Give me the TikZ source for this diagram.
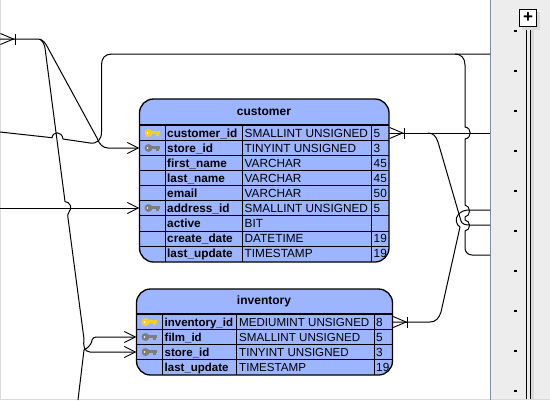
\documentclass[tikz,border=0pt]{standalone}
\usepackage{fontspec}
\setmainfont{Liberation Sans}
\usepackage{xcolor}
\usetikzlibrary{arrows.meta,positioning}
\definecolor{tableblue}{RGB}{157,181,255}
\definecolor{panegray}{RGB}{237,237,237}
\definecolor{paneedge}{RGB}{128,144,160}
\definecolor{shadegray}{RGB}{218,218,218}
\definecolor{keygold}{RGB}{250,205,40}
\definecolor{keygray}{RGB}{125,125,125}

\begin{document}
\begin{tikzpicture}[
  x=1pt, y=-1pt,
  tablebox/.style={draw, line width=1.3pt, fill=tableblue, rounded corners=14pt},
  rowbox/.style={minimum width=#1, minimum height=15pt, inner sep=0pt},
  gridline/.style={line width=1pt},
  cell/.style={anchor=west, inner sep=0pt, text height=8.8pt, text depth=2.4pt, font=\fontsize{11.8}{12}\selectfont},
  boldcell/.style={cell, font=\fontsize{11.8}{12}\selectfont\bfseries},
  title/.style={inner sep=0pt, font=\fontsize{12}{12}\selectfont\bfseries},
  conn/.style={line width=1pt},
  arr/.style={conn, -{Straight Barb[length=11pt, width=11pt, line width=.9pt]}},
  crow/.style={line width=.9pt, {Straight Barb[reversed, length=13pt, width=11pt, sep=0pt]Bar[width=11pt]}-},
  keyicon/.pic={
    \fill[#1] (-3.5,0) circle (4pt);
    \fill[white] (-4.5,0) circle (.9pt);
    \fill[#1] (-1,-1.6) rectangle (8,1.4);
    \fill[#1] (4,0) rectangle (7,2.6);
  }
]
  \useasboundingbox (0,0) rectangle (550,400);
  \fill[white] (0,0) rectangle (550,400);
  \fill[shadegray] (0,0) rectangle (1,400);
  \fill[shadegray] (0,399) rectangle (550,400);

  % customer table
  \draw[tablebox] (139.5,99) rectangle (389,262);
  \node[title] (customer) at (264,112) {customer};
  \draw[line width=2pt] (139.5,124.5) -- (389,124.5);
  \foreach \ypos in {140.5,155.5,170.5,185.5,200.5,215.5,231,246}
    \draw[gridline] (139.5,\ypos) -- (389,\ypos);
  \foreach \xpos in {165,242.5,371.5}
    \draw[gridline] (\xpos,124.5) -- (\xpos,262);
  \foreach \ypos/\rowid/\colname/\coltype/\colsize in {
    133/custid/customer\_id/SMALLINT UNSIGNED/5,
    148/custstore/store\_id/TINYINT UNSIGNED/3,
    163/custfirst/first\_name/VARCHAR/45,
    178/custlast/last\_name/VARCHAR/45,
    193/custemail/email/VARCHAR/50,
    208/custaddr/address\_id/SMALLINT UNSIGNED/5,
    223/custactive/active/BIT/,
    238/custcreate/create\_date/DATETIME/19,
    253.5/custupdate/last\_update/TIMESTAMP/19
  } {
    \node[rowbox=249.5pt] (\rowid) at (264.25,\ypos) {};
    \node[boldcell] (\rowid name) at (167,\ypos+.8) {\colname};
    \node[cell] (\rowid type) at (244.5,\ypos+.8) {\coltype};
    \node[cell] (\rowid size) at (373.5,\ypos+.8) {\colsize};
  }
  \pic at (152,133) {keyicon=keygold};
  \pic at (152,148) {keyicon=keygray};
  \pic at (152,208) {keyicon=keygray};

  % inventory table
  \draw[tablebox] (136.5,289) rectangle (392.5,375);
  \node[title] (inventory) at (264,301) {inventory};
  \draw[line width=2pt] (136.5,314) -- (392.5,314);
  \foreach \ypos in {329.5,344.5,359.5}
    \draw[gridline] (136.5,\ypos) -- (392.5,\ypos);
  \foreach \xpos in {162.5,236.5,374.5}
    \draw[gridline] (\xpos,314) -- (\xpos,375);
  \foreach \ypos/\rowid/\colname/\coltype/\colsize in {
    322/invid/inventory\_id/MEDIUMINT UNSIGNED/8,
    337/invfilm/film\_id/SMALLINT UNSIGNED/5,
    352/invstore/store\_id/TINYINT UNSIGNED/3,
    367/invupdate/last\_update/TIMESTAMP/19
  } {
    \node[rowbox=256pt] (\rowid) at (264.5,\ypos) {};
    \node[boldcell, font=\fontsize{11.5}{12}\selectfont\bfseries] (\rowid name) at (164.5,\ypos+.8) {\colname};
    \node[cell, font=\fontsize{11.6}{12}\selectfont] (\rowid type) at (239,\ypos+.8) {\coltype};
    \node[cell] (\rowid size) at (376,\ypos+.8) {\colsize};
  }
  \pic at (149,322) {keyicon=keygold};
  \pic at (149,337) {keyicon=keygray};
  \pic at (149,352) {keyicon=keygray};

  % side pane
  \fill[panegray] (490,0) rectangle (550,399);
  \draw[paneedge, line width=1.2pt] (490.6,0) -- (490.6,400);
  \fill[shadegray] (530.5,27) rectangle (534,399);
  \draw[line width=1pt] (526.5,26) -- (526.5,399);
  \draw[line width=1pt] (530,26) -- (530,399);
  \foreach \ypos in {31,71,...,391}
    \fill (513.5,\ypos-1) rectangle (516.5,\ypos+1);
  \fill[shadegray] (522,12) rectangle (540,30);
  \node[draw, fill=white, line width=1pt, minimum size=17pt, inner sep=0pt, font=\fontsize{17}{17}\selectfont\bfseries] (zoomplus) at (528,18) {+};

  \coordinate (leftend) at (0,39);
  \coordinate (leftmid) at (0,132);
  \coordinate (leftlow) at (0,208);
  \coordinate (bottomend) at (78,400);
  \coordinate (paneA) at (490,54);
  \coordinate (paneB) at (490,133);
  \coordinate (paneC) at (490,210);
  \coordinate (paneD) at (490,225);
  \coordinate (paneE) at (490,255);

  % connectors
  \draw[arr] (leftend) -- (38,39) .. controls (43,39) and (46,44) .. (48,48) -- (97,138)
    .. controls (99,144) and (103,148) .. (108,148) -- (custstore.west);
  \draw[crow] (leftend) -- +(14,0);
  \draw[conn] (40,39) .. controls (43,41) and (44,44) .. (45,48) -- (65,201.5)
    .. controls (70,202) and (73,208) .. (69,212) .. controls (67,214) and (68,216) .. (68,218) -- (84,339);
  \draw[arr] (84,339) .. controls (83,345) and (84,352) .. (90,352) -- (invstore.west);
  \draw[arr] (bottomend) -- (84,350) .. controls (90,347) and (92,342) .. (92,340)
    .. controls (93,338) and (94,337) .. (96,337) -- (invfilm.west);
  \draw[conn] (leftmid) -- (52,137.7) .. controls (53,131) and (62,131) .. (63,139)
    -- (90,143) .. controls (97,144) and (101.5,140) .. (101.5,132) -- (101.5,65)
    .. controls (101.5,58) and (105,54) .. (112,54) -- (paneA);
  \draw[arr] (leftlow) -- (custaddr.west);

  \draw[conn] (455,54) .. controls (461,54) and (465,58) .. (465,65) -- (465,127)
    .. controls (472,128) and (472,138) .. (465,139) -- (465,205)
    .. controls (471,206) and (471,216) .. (465,217) -- (465,220)
    .. controls (471,221) and (471,230) .. (465,231) -- (465,248)
    .. controls (465,252) and (468,255) .. (472,255) -- (paneE);
  \draw[conn] (custid.east) -- (paneB);
  \draw[crow] (custid.east) -- +(14,0);
  \draw[conn] (428,133) .. controls (433,133) and (436,136) .. (438,142) -- (461,221)
    .. controls (462,224) and (465,225) .. (470,225) -- (paneD);
  \draw[conn] (invid.east) -- (430,322) .. controls (436,322) and (439,318) .. (441,312)
    -- (460,227) .. controls (456,225) and (455,218) .. (458,215)
    .. controls (461,211) and (465,210) .. (470,210) -- (paneC);
  \draw[crow] (invid.east) -- +(14,0);
\end{tikzpicture}
\end{document}
